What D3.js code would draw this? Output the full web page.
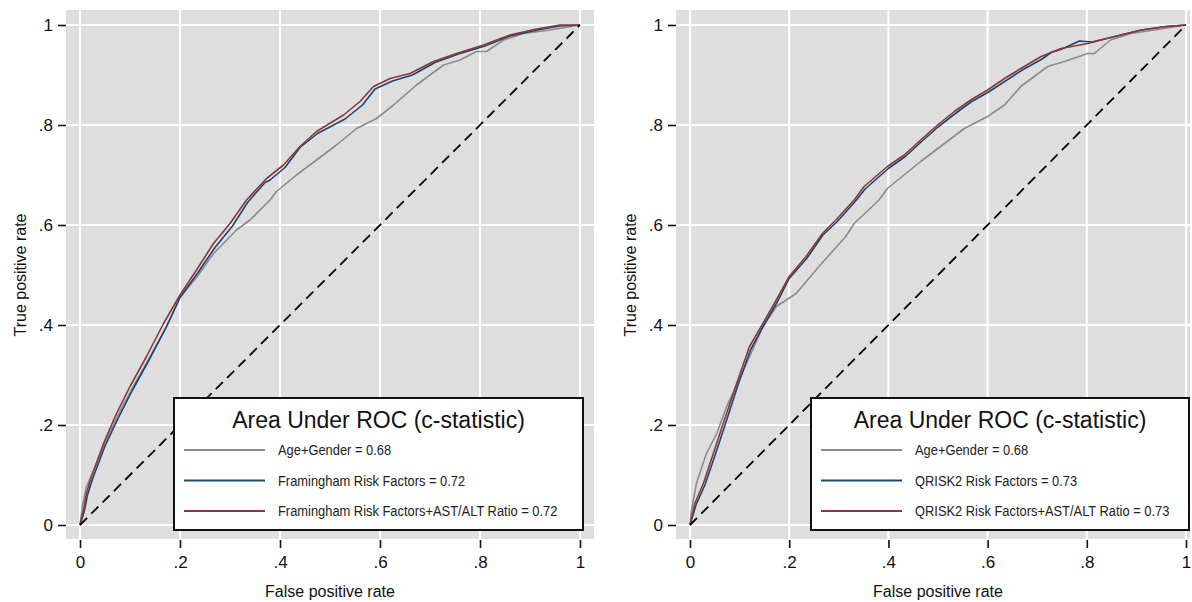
<!DOCTYPE html>
<html>
<head>
<meta charset="utf-8">
<script src="https://cdn.jsdelivr.net/npm/d3@7"></script>
<style>
  html, body { margin: 0; padding: 0; background: #fff; }
  svg { display: block; font-family: "Liberation Sans", Arial, sans-serif; }
</style>
</head>
<body>
<div id="chart"></div>
<script>
// tick values / labels shared by both axes of both panels
const tickValues = [0, 0.2, 0.4, 0.6, 0.8, 1];
const tickLabels = ['0', '.2', '.4', '.6', '.8', '1'];

const legendTitle = 'Area Under ROC (c-statistic)';
const seriesColors = ['#8c8c8c', '#1a476f', '#90353b'];

// left panel: Framingham
const framLabels = [
  'Age+Gender = 0.68',
  'Framingham Risk Factors = 0.72',
  'Framingham Risk Factors+AST/ALT Ratio = 0.72',
];
const framAgeGender = [
  [0, 0], [0.005, 0.04], [0.013, 0.077], [0.03, 0.115], [0.05, 0.165], [0.08, 0.228],
  [0.11, 0.283], [0.145, 0.345], [0.175, 0.4], [0.2, 0.455], [0.233, 0.495], [0.267, 0.543],
  [0.313, 0.59], [0.34, 0.61], [0.38, 0.65], [0.393, 0.667], [0.433, 0.7], [0.473, 0.73],
  [0.513, 0.76], [0.553, 0.793], [0.593, 0.813], [0.627, 0.84], [0.673, 0.88], [0.727, 0.92],
  [0.76, 0.93], [0.793, 0.947], [0.813, 0.947], [0.847, 0.97], [0.887, 0.983], [0.94, 0.99], [1, 1],
];
const framRisk = [
  [0, 0], [0.008, 0.025], [0.015, 0.06], [0.025, 0.092], [0.05, 0.158], [0.077, 0.215],
  [0.105, 0.27], [0.138, 0.33], [0.172, 0.395], [0.2, 0.455], [0.236, 0.505], [0.27, 0.555],
  [0.305, 0.598], [0.335, 0.645], [0.37, 0.685], [0.38, 0.69], [0.41, 0.715], [0.44, 0.755],
  [0.475, 0.783], [0.53, 0.812], [0.565, 0.84], [0.59, 0.872], [0.625, 0.888], [0.665, 0.9],
  [0.71, 0.925], [0.757, 0.942], [0.81, 0.958], [0.86, 0.978], [0.915, 0.99], [0.96, 0.998], [1, 1],
];
const framRiskAst = [
  [0, 0], [0.007, 0.03], [0.013, 0.064], [0.023, 0.097], [0.047, 0.163], [0.073, 0.223],
  [0.1, 0.277], [0.133, 0.337], [0.167, 0.403], [0.2, 0.46], [0.233, 0.51], [0.267, 0.563],
  [0.3, 0.603], [0.333, 0.65], [0.373, 0.693], [0.407, 0.72], [0.44, 0.757], [0.473, 0.787],
  [0.527, 0.82], [0.56, 0.847], [0.587, 0.877], [0.62, 0.893], [0.66, 0.903], [0.707, 0.927],
  [0.753, 0.943], [0.807, 0.96], [0.86, 0.98], [0.913, 0.992], [0.96, 1], [1, 1],
];

// right panel: QRISK2
const qriskLabels = [
  'Age+Gender = 0.68',
  'QRISK2 Risk Factors = 0.73',
  'QRISK2 Risk Factors+AST/ALT Ratio = 0.73',
];
const qriskAgeGender = [
  [0, 0], [0.003, 0.03], [0.013, 0.083], [0.033, 0.143], [0.054, 0.183], [0.074, 0.237],
  [0.114, 0.323], [0.147, 0.397], [0.174, 0.437], [0.214, 0.463], [0.26, 0.517], [0.314, 0.577],
  [0.331, 0.603], [0.381, 0.65], [0.398, 0.673], [0.465, 0.727], [0.553, 0.793], [0.6, 0.817],
  [0.634, 0.84], [0.667, 0.877], [0.721, 0.917], [0.755, 0.927], [0.802, 0.943], [0.815, 0.943],
  [0.848, 0.97], [0.889, 0.983], [0.936, 0.99], [1, 1],
];
const qriskRisk = [
  [0, 0], [0.012, 0.04], [0.03, 0.08], [0.05, 0.138], [0.07, 0.198], [0.096, 0.278],
  [0.122, 0.35], [0.148, 0.398], [0.176, 0.446], [0.2, 0.493], [0.236, 0.534], [0.268, 0.58],
  [0.296, 0.606], [0.333, 0.647], [0.353, 0.672], [0.4, 0.713], [0.434, 0.737], [0.467, 0.767],
  [0.5, 0.796], [0.535, 0.823], [0.568, 0.847], [0.602, 0.866], [0.636, 0.888], [0.67, 0.91],
  [0.71, 0.932], [0.728, 0.945], [0.75, 0.952], [0.785, 0.968], [0.81, 0.966], [0.857, 0.977],
  [0.91, 0.99], [0.96, 0.997], [1, 1],
];
const qriskRiskAst = [
  [0, 0], [0.01, 0.044], [0.027, 0.083], [0.047, 0.143], [0.067, 0.203], [0.094, 0.283],
  [0.12, 0.357], [0.147, 0.403], [0.174, 0.45], [0.2, 0.497], [0.234, 0.537], [0.267, 0.583],
  [0.294, 0.61], [0.331, 0.65], [0.351, 0.677], [0.398, 0.717], [0.432, 0.74], [0.465, 0.77],
  [0.499, 0.8], [0.533, 0.827], [0.566, 0.85], [0.6, 0.87], [0.634, 0.893], [0.667, 0.913],
  [0.708, 0.937], [0.748, 0.953], [0.802, 0.963], [0.856, 0.977], [0.91, 0.99], [0.96, 0.997], [1, 1],
];

const W = 1192, H = 602;
const svg = d3.select('#chart').append('svg')
  .attr('width', W)
  .attr('height', H)
  .attr('viewBox', `0 0 ${W} ${H}`);

function drawPanel(p) {
  const pad = 14;
  const x = d3.scaleLinear().domain([0, 1]).range(p.xRange);
  const y = d3.scaleLinear().domain([0, 1]).range([525, 25]);
  const bgL = x(0) - pad, bgR = Math.min(x(1) + pad, W - 2);
  const bgT = y(1) - 15, bgB = y(0) + pad;

  const g = svg.append('g');

  g.append('rect')
    .attr('x', bgL).attr('y', bgT)
    .attr('width', bgR - bgL).attr('height', bgB - bgT)
    .attr('fill', '#dedede');

  // grid
  g.selectAll('.vgrid').data(tickValues).join('line')
    .attr('x1', d => x(d)).attr('x2', d => x(d))
    .attr('y1', bgT).attr('y2', bgB)
    .attr('stroke', '#fff').attr('stroke-width', 2);
  g.selectAll('.hgrid').data(tickValues).join('line')
    .attr('x1', bgL).attr('x2', bgR)
    .attr('y1', d => y(d)).attr('y2', d => y(d))
    .attr('stroke', '#fff').attr('stroke-width', 2);

  // axes
  const fmt = (d, i) => tickLabels[i];
  g.append('g')
    .attr('transform', `translate(${bgL},0)`)
    .call(d3.axisLeft(y).tickValues(tickValues).tickFormat(fmt).tickSize(8).tickPadding(5))
    .call(a => a.select('.domain').remove())
    .call(a => a.selectAll('.tick line').attr('stroke', '#111').attr('stroke-width', 1.6))
    .selectAll('text')
    .attr('fill', '#111')
    .style('font-size', '17px')
    .style('font-family', '"Liberation Sans", Arial, sans-serif');

  g.append('g')
    .attr('transform', `translate(0,${bgB + 1})`)
    .call(d3.axisBottom(x).tickValues(tickValues).tickFormat(fmt).tickSize(8).tickPadding(8))
    .call(a => a.select('.domain').remove())
    .call(a => a.selectAll('.tick line').attr('stroke', '#111').attr('stroke-width', 1.6))
    .selectAll('text')
    .attr('fill', '#111')
    .style('font-size', '17px')
    .style('font-family', '"Liberation Sans", Arial, sans-serif');

  g.append('text')
    .attr('transform', `translate(${p.titleX},${y(0.5)}) rotate(-90)`)
    .attr('text-anchor', 'middle')
    .attr('fill', '#111')
    .attr('font-size', '16px')
    .text('True positive rate');

  g.append('text')
    .attr('x', x(0.5))
    .attr('y', 597)
    .attr('text-anchor', 'middle')
    .attr('fill', '#111')
    .attr('font-size', '16px')
    .text('False positive rate');

  // curves
  const line = d3.line().x(d => x(d[0])).y(d => y(d[1]));
  g.selectAll('.roc').data(p.series).join('path')
    .attr('d', line)
    .attr('fill', 'none')
    .attr('stroke', (d, i) => seriesColors[i])
    .attr('stroke-width', 1.6)
    .attr('stroke-linejoin', 'round');

  g.append('path')
    .attr('d', line([[0, 0], [1, 1]]))
    .attr('stroke', '#000')
    .attr('stroke-width', 1.8)
    .attr('stroke-dasharray', '10,6');

  // legend
  const L = p.legend;
  const lg = g.append('g').attr('transform', `translate(${L.x},${L.y})`);
  lg.append('rect')
    .attr('width', L.w).attr('height', L.h)
    .attr('fill', '#fff')
    .attr('stroke', '#111')
    .attr('stroke-width', 2);
  lg.append('text')
    .attr('x', L.w / 2)
    .attr('y', 30)
    .attr('text-anchor', 'middle')
    .attr('fill', '#111')
    .attr('font-size', '23px')
    .text(legendTitle);

  const items = lg.selectAll('.item').data(p.labels).join('g')
    .attr('transform', (d, i) => `translate(10,${52 + i * 30.5})`);
  items.append('line')
    .attr('x1', 0).attr('x2', 81)
    .attr('stroke', (d, i) => seriesColors[i])
    .attr('stroke-width', 2);
  items.append('text')
    .attr('x', 94)
    .attr('y', 5)
    .attr('fill', '#222')
    .attr('font-size', '14px')
    .text(d => d)
    .each(function () {
      const len = this.getComputedTextLength();
      d3.select(this).attr('textLength', len * 0.92).attr('lengthAdjust', 'spacingAndGlyphs');
    });
}

drawPanel({
  xRange: [80, 580],
  titleX: 26,
  series: [framAgeGender, framRisk, framRiskAst],
  labels: framLabels,
  legend: { x: 174, y: 398, w: 409, h: 132 },
});

drawPanel({
  xRange: [690, 1186],
  titleX: 636,
  series: [qriskAgeGender, qriskRisk, qriskRiskAst],
  labels: qriskLabels,
  legend: { x: 811, y: 398, w: 378, h: 132 },
});
</script>
</body>
</html>
